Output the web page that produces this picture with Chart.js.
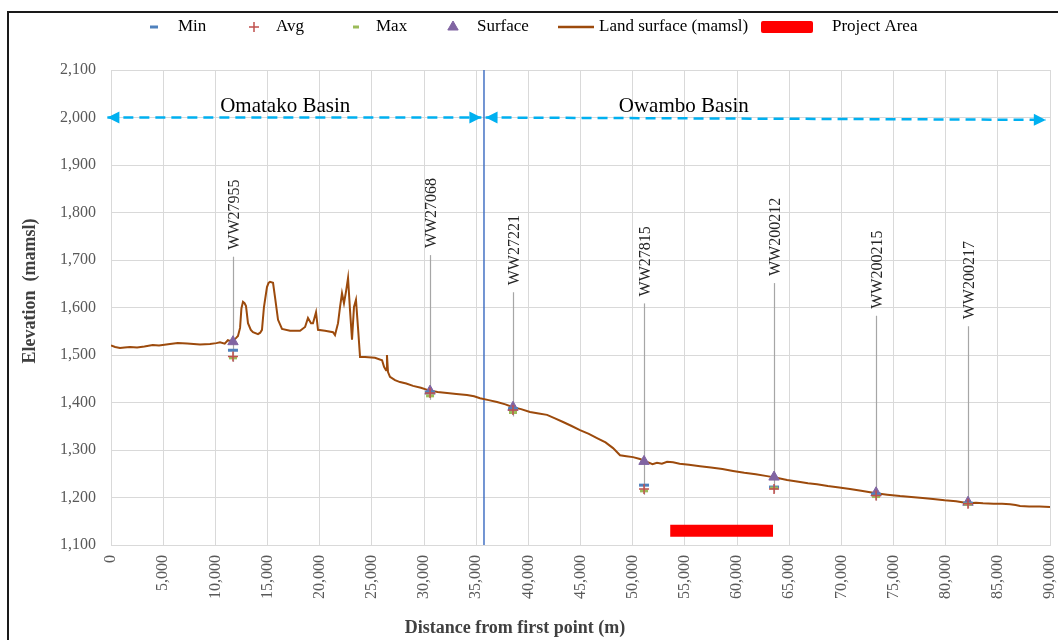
<!DOCTYPE html>
<html>
<head>
<meta charset="utf-8">
<title>Elevation profile</title>
<script src="https://cdn.jsdelivr.net/npm/chart.js@4.4.0/dist/chart.umd.min.js"></script>
<style>
  html, body { margin: 0; padding: 0; background: #fff; }
  body { width: 1058px; height: 640px; position: relative; overflow: hidden; }
  #frame { position: absolute; left: 7px; top: 11px; width: 1100px; height: 700px;
           border-left: 2px solid #1a1a1a; border-top: 2px solid #1a1a1a; }
  #profile { position: absolute; left: 0; top: 0; }
</style>
</head>
<body>
<div id="frame"></div>
<canvas id="profile" width="1058" height="640"></canvas>
<script>
// land surface along the section (distance from first point in m, elevation in mamsl)
const profileDist = [0, 400, 860, 1300, 1820, 2500, 3200, 4000, 4600, 5650, 6400, 7300, 8530, 9490, 10100, 10450,
  10900, 11200, 11600, 12000, 12170, 12370, 12500, 12650, 12800, 12940, 13130, 13400, 13610, 14090, 14300, 14470,
  14660, 14950, 15100, 15240, 15530, 15720, 16010, 16390, 17160, 18120, 18600, 18880, 19170, 19360, 19650, 19840,
  20510, 21280, 21470, 21760, 21950, 22140, 22330, 22520, 22720, 22910, 23100, 23290, 23480, 23670, 23870, 24350,
  25300, 25980, 26170, 26360, 26450, 26550, 26740, 27220, 27700, 28300, 28950, 29700, 30390, 31300, 32210, 33100,
  34120, 34800, 35370, 36200, 37000, 37800, 38530, 39300, 40160, 41000, 41790, 42500, 43330, 44100, 44950, 45800,
  46580, 47400, 48120, 48790, 49400, 50030, 50700, 51380, 51900, 52330, 52800, 53300, 53870, 54500, 55400, 56460,
  57500, 58600, 59620, 60700, 61800, 62880, 63900, 64800, 65900, 66800, 67670, 68700, 69800, 70830, 71900, 73330,
  74400, 75630, 76700, 77800, 78790, 79900, 81000, 82140, 82900, 83580, 84600, 85400, 86170, 86700, 87130, 88000,
  89000, 90000];
const profileElev = [1520, 1517, 1515, 1516, 1517, 1516, 1518, 1521, 1520, 1523, 1525, 1524, 1522, 1523, 1525, 1527,
  1524, 1531, 1528, 1536, 1540, 1557, 1598, 1612, 1609, 1603, 1567, 1553, 1548, 1544, 1547, 1553,
  1601, 1643, 1652, 1654, 1652, 1622, 1574, 1555, 1551, 1551, 1559, 1578, 1567, 1567, 1590, 1553,
  1551, 1548, 1542, 1567, 1601, 1630, 1609, 1633, 1662, 1594, 1532, 1601, 1616, 1559, 1496, 1496,
  1494, 1489, 1475, 1468, 1500, 1464, 1454, 1447, 1443, 1440, 1435, 1431, 1426, 1422, 1420, 1418,
  1416, 1413, 1409, 1405, 1401, 1396, 1390, 1386, 1380, 1377, 1374, 1367, 1359, 1351, 1342, 1334,
  1325, 1316, 1304, 1289, 1287, 1285, 1281, 1275, 1270, 1273, 1271, 1275, 1274, 1271, 1269, 1266,
  1263, 1260, 1256, 1252, 1249, 1245, 1241, 1237, 1233, 1230, 1228, 1224, 1221, 1218, 1214, 1209,
  1206, 1203, 1201, 1199, 1197, 1194, 1192, 1188, 1189, 1188, 1187, 1187, 1186, 1184, 1182, 1181,
  1181, 1180];

// boreholes projected onto the section
const wellNames = ['WW27955', 'WW27068', 'WW27221', 'WW27815', 'WW200212', 'WW200215', 'WW200217'];
const wellDist = [11690, 30580, 38530, 51090, 63550, 73330, 82140];
const wellSurface = [1528, 1424, 1390, 1276, 1243, 1210, 1190];
const wellMin = [1510, 1422, 1387, 1226, 1222, 1207, 1188];
const wellAvg = [1497, 1420, 1384, 1218, 1218, 1204, 1187];
const wellMax = [1494, 1414, 1379, 1214, 1220, 1202, 1186];

// basins and project area
const basinNames = ['Omatako Basin', 'Owambo Basin'];
const basinBoundary = 35750;
const omatakoDist = [-350, 35500];
const omatakoElev = [2000, 2000];
const owamboDist = [35900, 89600];
const owamboElev = [2000, 1995];
const basinLabelDist = [16700, 54900];
const basinLabelElev = [2024, 2024];
const projectDist = [53600, 63450];
const projectElev = [1130, 1130];

// axes
const xMin = 0, xMax = 90000, xStep = 5000;
const yMin = 1100, yMax = 2100, yStep = 100;
const xTitle = 'Distance from first point (m)';
const yTitle = 'Elevation  (mamsl)';

// how far (px) each well label sits above its surface point
const calloutRise = [85, 136, 115, 158, 194, 177, 176];

const serif = '"Liberation Serif", "Times New Roman", serif';
const pts = (xs, ys) => xs.map((v, i) => ({ x: v, y: ys[i] }));

const wellCallouts = {
  id: 'wellCallouts',
  beforeDatasetsDraw(chart) {
    const { ctx, scales: { x, y } } = chart;
    ctx.save();
    ctx.strokeStyle = '#a6a6a6';
    ctx.lineWidth = 1.2;
    ctx.fillStyle = '#262626';
    ctx.font = '16px ' + serif;
    wellNames.forEach((name, i) => {
      const px = Math.round(x.getPixelForValue(wellDist[i])) + 0.5;
      const top = y.getPixelForValue(wellSurface[i]) - calloutRise[i];
      const low = y.getPixelForValue(Math.min(wellMin[i], wellAvg[i], wellMax[i])) + 4;
      ctx.beginPath();
      ctx.moveTo(px, top);
      ctx.lineTo(px, low);
      ctx.stroke();
      ctx.save();
      ctx.translate(px, top - 7);
      ctx.rotate(-Math.PI / 2);
      ctx.textAlign = 'left';
      ctx.textBaseline = 'middle';
      ctx.fillText(name, 0, 1);
      ctx.restore();
    });
    ctx.restore();
  }
};

function arrowHead(ctx, fx, fy, tx, ty) {
  const a = Math.atan2(ty - fy, tx - fx);
  ctx.save();
  ctx.translate(tx, ty);
  ctx.rotate(a);
  ctx.beginPath();
  ctx.moveTo(0, 0);
  ctx.lineTo(-12, -6);
  ctx.lineTo(-12, 6);
  ctx.closePath();
  ctx.fill();
  ctx.restore();
}

const basinArrows = {
  id: 'basinArrows',
  afterDatasetsDraw(chart) {
    const { ctx, scales: { x, y } } = chart;
    ctx.save();
    ctx.fillStyle = '#00b0f0';
    chart.data.datasets.forEach((ds, i) => {
      if (!ds.arrows) return;
      const p = chart.getDatasetMeta(i).data;
      const a = p[0], b = p[p.length - 1];
      arrowHead(ctx, b.x, b.y, a.x, a.y);
      arrowHead(ctx, a.x, a.y, b.x, b.y);
    });
    ctx.fillStyle = '#000';
    ctx.font = '21px ' + serif;
    ctx.textAlign = 'center';
    ctx.textBaseline = 'middle';
    basinNames.forEach((name, i) => {
      ctx.fillText(name, x.getPixelForValue(basinLabelDist[i]), y.getPixelForValue(basinLabelElev[i]));
    });
    ctx.restore();
  }
};

// axis titles sit a little off-centre, so they are drawn here
const axisTitles = {
  id: 'axisTitles',
  afterDraw(chart) {
    const { ctx } = chart;
    ctx.save();
    ctx.fillStyle = '#404040';
    ctx.font = 'bold 18px ' + serif;
    ctx.textAlign = 'center';
    ctx.textBaseline = 'middle';
    ctx.fillText(xTitle, 515, 628);
    ctx.translate(30, 291);
    ctx.rotate(-Math.PI / 2);
    ctx.fillText(yTitle, 0, 0);
    ctx.restore();
  }
};

// legend row along the top, styled from the datasets
const topLegend = {
  id: 'topLegend',
  afterDraw(chart) {
    const { ctx } = chart;
    const ds = chart.data.datasets;
    const find = (label) => ds.find(d => d.label === label);
    const cy = 27;
    const items = [
      { label: 'Min', mx: 154, tx: 178, r: 4 },
      { label: 'Avg', mx: 254, tx: 276, r: 5 },
      { label: 'Max', mx: 356, tx: 376, r: 3 },
      { label: 'Surface', mx: 453, tx: 477, r: 6 }
    ];
    ctx.save();
    items.forEach(it => {
      const d = find(it.label);
      ctx.strokeStyle = d.pointBorderColor;
      ctx.fillStyle = d.pointBackgroundColor || d.pointBorderColor;
      ctx.lineWidth = d.pointBorderWidth;
      Chart.helpers.drawPoint(ctx, { pointStyle: d.pointStyle, radius: it.r, borderWidth: d.pointBorderWidth, rotation: 0 }, it.mx, cy);
    });
    const land = find('Land surface (mamsl)');
    ctx.strokeStyle = land.borderColor;
    ctx.lineWidth = 2.5;
    ctx.beginPath();
    ctx.moveTo(558, cy);
    ctx.lineTo(594, cy);
    ctx.stroke();
    const proj = find('Project Area');
    ctx.fillStyle = proj.borderColor;
    ctx.beginPath();
    ctx.roundRect(761, cy - 6, 52, 12, 2);
    ctx.fill();

    ctx.fillStyle = '#000';
    ctx.font = '17px ' + serif;
    ctx.textBaseline = 'middle';
    items.forEach(it => ctx.fillText(it.label, it.tx, cy));
    ctx.fillText('Land surface (mamsl)', 599, cy);
    ctx.fillText('Project Area', 832, cy);
    ctx.restore();
  }
};

new Chart(document.getElementById('profile'), {
  type: 'scatter',
  data: {
    datasets: [
      {
        label: 'Avg', data: pts(wellDist, wellAvg),
        pointStyle: 'cross', pointRadius: 5, pointBorderWidth: 1.5,
        pointBorderColor: '#c0504d', pointBackgroundColor: '#c0504d'
      },
      {
        label: 'Max', data: pts(wellDist, wellMax),
        pointStyle: 'line', pointRadius: 4, pointBorderWidth: 3,
        pointBorderColor: '#9bbb59', pointBackgroundColor: '#9bbb59'
      },
      {
        label: 'Min', data: pts(wellDist, wellMin),
        pointStyle: 'line', pointRadius: 5, pointBorderWidth: 3,
        pointBorderColor: '#4f81bd', pointBackgroundColor: '#4f81bd'
      },
      {
        label: 'Surface', data: pts(wellDist, wellSurface),
        pointStyle: 'triangle', pointRadius: 6, pointBorderWidth: 1,
        pointBorderColor: '#8064a2', pointBackgroundColor: '#8064a2'
      },
      {
        label: 'Land surface (mamsl)', data: pts(profileDist, profileElev),
        showLine: true, borderColor: '#9c4a0c', borderWidth: 2, pointRadius: 0, tension: 0
      },
      {
        label: 'Project Area', data: pts(projectDist, projectElev),
        showLine: true, borderColor: '#ff0000', borderWidth: 12, pointRadius: 0
      },
      {
        label: 'Basin boundary', data: pts([basinBoundary, basinBoundary], [yMin, yMax]),
        showLine: true, borderColor: '#4472c4', borderWidth: 1.5, pointRadius: 0
      },
      {
        label: 'Omatako', data: pts(omatakoDist, omatakoElev), arrows: true, clip: false,
        showLine: true, borderColor: '#00b0f0', borderWidth: 2.5, borderDash: [10, 6], pointRadius: 0
      },
      {
        label: 'Owambo', data: pts(owamboDist, owamboElev), arrows: true, clip: false,
        showLine: true, borderColor: '#00b0f0', borderWidth: 2.5, borderDash: [10, 6], pointRadius: 0
      }
    ]
  },
  options: {
    responsive: false,
    devicePixelRatio: 1,
    animation: false,
    events: [],
    locale: 'en-US',
    layout: { padding: { top: 70, right: 8, bottom: 0, left: 0 } },
    plugins: {
      legend: { display: false },
      tooltip: { enabled: false }
    },
    scales: {
      x: {
        type: 'linear', min: xMin, max: xMax,
        afterFit(scale) {
          scale.height = 95;
          scale.paddingLeft = 0;
          scale.paddingRight = 0;
        },
        ticks: {
          stepSize: xStep, autoSkip: false, minRotation: 90, maxRotation: 90, padding: 10,
          color: '#595959', font: { family: serif, size: 16 }
        },
        grid: { color: '#d9d9d9', drawTicks: false },
        border: { color: '#d9d9d9' }
      },
      y: {
        type: 'linear', min: yMin, max: yMax,
        afterFit(scale) { scale.width = 111; },
        ticks: {
          stepSize: yStep, padding: 15,
          color: '#595959', font: { family: serif, size: 16 }
        },
        grid: { color: '#d9d9d9', drawTicks: false },
        border: { color: '#d9d9d9' }
      }
    }
  },
  plugins: [wellCallouts, basinArrows, axisTitles, topLegend]
});
</script>
</body>
</html>
